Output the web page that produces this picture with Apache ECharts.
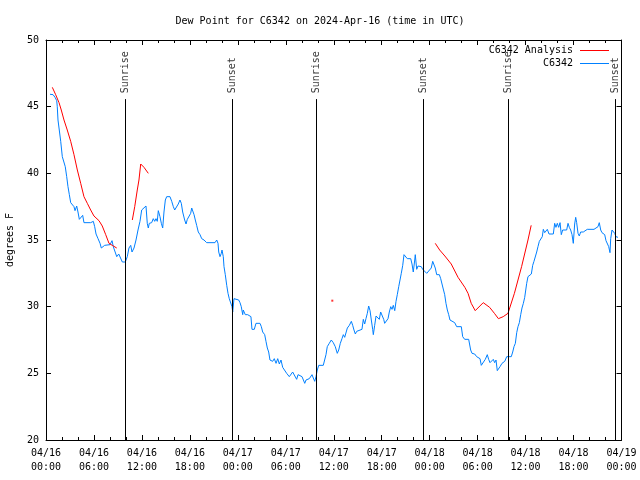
<!DOCTYPE html>
<html>
<head>
<meta charset="utf-8">
<script src="https://cdn.jsdelivr.net/npm/echarts@6/dist/echarts.min.js"></script>
<style>html,body{margin:0;padding:0;background:#fff}#c{width:640px;height:480px}</style>
</head>
<body>
<div id="c"></div>
<script>
// hours since 04/16 00:00 UTC
const tickLabels = ['04/16\n00:00','04/16\n06:00','04/16\n12:00','04/16\n18:00','04/17\n00:00','04/17\n06:00','04/17\n12:00','04/17\n18:00','04/18\n00:00','04/18\n06:00','04/18\n12:00','04/18\n18:00','04/19\n00:00'];
const sunHours = [9.92, 23.31, 33.82, 47.20, 57.84, 71.23];
const sunNames = ['Sunrise','Sunset','Sunrise','Sunset','Sunrise','Sunset'];

const analysisHours = [0.79,1.21,1.63,1.91,2.25,2.66,3.09,3.50,3.92,4.34,4.75,5.17,5.59,6.00,6.63,7.04,7.47,7.88,8.29,8.85,
  9.8,
  10.80,11.10,11.42,11.63,11.85,12.26,12.80,
  20.0,
  35.82,
  40.0,
  48.70,49.25,49.90,50.70,51.55,52.40,52.80,53.20,53.70,54.70,55.50,56.10,56.60,57.20,57.80,58.60,59.50,60.30,60.70];
const analysisValues = [46.45,45.9,45.3,44.75,44.0,43.25,42.4,41.4,40.25,39.25,38.25,37.75,37.25,36.8,36.45,36.05,35.4,34.75,34.6,34.4,
  null,
  36.5,37.5,38.75,39.5,40.7,40.45,40.0,
  null,
  30.45,
  null,
  34.75,34.25,33.8,33.2,32.2,31.45,31.0,30.25,29.7,30.3,29.95,29.5,29.1,29.25,29.5,31.0,33.0,35.0,36.1];

const obsHours = [0.50,0.88,1.13,1.34,1.41,1.50,1.66,1.84,2.04,2.25,2.41,2.59,2.75,2.92,3.09,3.34,3.50,3.63,3.84,4.00,
4.17,4.42,4.59,4.75,5.59,5.92,6.09,6.26,6.51,6.76,6.92,7.09,7.34,7.59,8.01,8.26,8.42,8.59,8.85,9.10,
9.35,9.55,9.92,10.17,10.38,10.60,10.76,11.01,11.26,11.51,11.76,11.97,12.17,12.51,12.60,12.67,12.80,12.92,13.22,13.42,
13.60,13.76,13.92,14.05,14.26,14.43,14.60,14.76,14.93,15.10,15.51,15.73,15.93,16.10,16.35,16.55,16.76,16.93,17.10,17.35,
17.52,17.68,17.93,18.10,18.23,18.35,18.52,18.68,18.85,19.05,19.27,19.48,19.77,20.10,21.14,21.36,21.52,21.61,21.77,21.93,
22.02,22.18,22.27,22.43,22.61,22.77,22.93,23.11,23.27,23.36,23.52,23.77,24.11,24.27,24.43,24.61,24.68,24.93,25.23,25.43,
25.64,25.77,26.06,26.27,26.77,26.94,27.11,27.36,27.52,27.69,27.86,28.02,28.19,28.36,28.56,28.78,28.99,29.19,29.40,29.61,
29.86,30.11,30.44,30.65,30.86,31.11,31.36,31.53,31.78,32.03,32.19,32.37,32.53,32.69,32.94,33.12,33.28,33.44,33.62,33.78,
33.94,34.12,34.69,34.87,35.03,35.19,35.44,35.69,35.94,36.19,36.44,36.62,36.82,37.03,37.20,37.37,37.53,37.70,37.95,38.20,
38.37,38.53,38.70,38.87,39.12,39.53,39.70,39.87,40.03,40.20,40.37,40.54,40.70,40.87,40.95,41.12,41.29,41.54,41.70,41.87,
42.12,42.25,42.37,42.54,42.79,42.95,43.13,43.29,43.45,43.63,43.79,43.95,44.13,44.29,44.45,44.63,44.79,44.95,45.20,45.63,
45.79,45.95,46.13,46.20,46.38,46.54,46.70,46.95,47.13,47.38,47.63,47.88,48.20,48.38,48.54,48.70,48.88,49.04,49.21,49.38,
49.54,49.67,49.88,50.04,50.21,50.38,50.54,50.71,51.13,51.38,51.96,52.13,52.38,52.88,53.13,53.30,53.63,53.88,54.13,54.30,
54.46,54.71,54.96,55.21,55.38,55.55,55.80,55.96,56.13,56.30,56.46,56.64,56.80,57.05,57.39,57.64,58.21,58.39,58.55,58.72,
58.89,59.05,59.22,59.39,59.55,59.72,59.89,60.14,60.30,60.47,60.72,60.89,61.05,61.22,61.39,61.55,61.72,61.89,62.09,62.22,
62.39,62.55,62.72,62.93,63.47,63.64,63.80,63.97,64.14,64.31,64.47,64.64,65.14,65.31,65.47,65.64,65.81,65.97,66.14,66.27,
66.39,66.56,66.72,66.89,67.06,67.22,67.47,67.72,68.56,68.81,69.06,69.22,69.40,69.56,69.72,69.90,70.06,70.22,70.40,70.56,
70.65,70.81,70.98,71.15,71.31,71.56];
const obsValues = [45.93,45.9,45.7,45.45,45.0,44.0,43.25,42.4,41.25,41.2,40.5,39.75,39.0,38.4,37.8,37.7,37.5,37.2,37.55,37.1,
36.55,36.55,36.85,36.3,36.3,36.4,36.0,35.45,35.1,34.75,34.4,34.25,34.6,34.65,34.65,34.95,34.5,34.5,33.75,33.95,
33.95,33.35,33.35,33.75,34.4,34.6,34.1,34.4,35.0,35.75,36.4,37.25,37.4,37.55,37.5,36.25,35.9,36.25,36.3,36.6,
36.4,36.6,36.4,37.2,36.75,36.25,35.9,37.1,38.0,38.25,38.25,37.9,37.5,37.25,37.25,37.7,38.0,37.75,37.1,36.5,
36.2,36.55,36.6,37.0,37.4,37.3,36.9,36.5,36.1,35.6,35.4,35.1,35.0,34.8,34.8,35.0,34.75,34.1,33.75,34.0,
34.25,33.75,33.0,32.4,31.6,31.0,30.6,30.6,30.0,29.6,30.6,30.55,30.5,30.3,30.0,29.4,29.75,29.4,29.4,29.25,
29.25,28.3,28.3,28.75,28.75,28.5,28.1,27.9,27.4,26.9,26.6,26.0,26.1,25.9,26.1,25.75,26.1,25.7,26.0,25.45,
25.3,25.0,24.75,24.8,25.1,25.1,24.55,24.9,24.9,24.75,24.65,24.25,24.5,24.6,24.6,24.75,24.9,24.65,24.4,24.75,
25.25,25.6,25.6,25.75,26.4,27.0,27.25,27.5,27.3,27.0,26.5,26.75,27.25,27.6,27.9,27.7,27.8,28.4,28.6,28.9,
28.6,28.25,27.95,28.15,28.3,28.3,29.05,28.7,29.1,29.5,30.05,29.7,29.0,28.3,27.9,28.6,29.3,29.3,29.05,29.6,
29.45,29.05,28.75,28.85,29.1,29.6,30.0,29.8,30.1,29.7,30.4,30.9,31.5,32.0,32.5,33.1,33.9,34.0,33.6,33.6,
33.2,32.6,33.5,33.9,32.8,33.05,32.9,33.0,32.8,32.75,32.5,32.6,32.9,33.4,33.4,32.9,32.4,32.25,32.4,32.1,
32.1,31.4,30.9,30.25,29.75,29.4,29.0,28.9,28.8,28.5,28.5,27.75,27.55,27.55,26.75,26.5,26.45,26.25,26.35,26.1,
25.6,25.6,26.05,26.4,26.05,25.8,25.8,26.05,25.8,26.0,25.2,25.3,25.5,25.75,25.9,26.25,26.25,26.6,27.0,27.25,
28.05,28.5,28.8,29.4,29.9,30.25,30.7,31.75,32.25,32.4,32.45,33.1,33.4,33.45,34.1,34.5,34.9,34.95,35.25,35.8,
35.55,35.45,35.8,35.45,35.45,36.25,35.95,36.25,35.95,36.3,35.4,35.75,35.75,36.25,35.95,35.75,35.4,34.75,36.2,36.7,
36.3,35.5,35.3,35.6,35.45,35.6,35.7,35.8,35.8,35.85,36.0,36.3,35.75,35.55,35.7,35.4,34.95,34.9,34.5,34.05,
35.1,35.75,35.9,35.5,35.25,35.2];

const FONT = 'DejaVu Sans Mono';
const RED = '#ff0000';
const BLUE = '#0080ff';

const analysisData = analysisHours.map((h, i) => [h, analysisValues[i] == null ? '-' : analysisValues[i]]);
const isolated = [];
analysisValues.forEach((v, i) => {
  if (v != null && analysisValues[i - 1] == null && analysisValues[i + 1] == null) isolated.push([analysisHours[i], v]);
});
const obsData = obsHours.map((h, i) => [h, obsValues[i]]);
const sunLabelData = sunHours.map((h, i) => ({ name: sunNames[i], value: [h, 46.0] }));
const sunLines = sunHours.map(h => [{ coord: [h, 20] }, { coord: [h, 45.57] }]);

const chart = echarts.init(document.getElementById('c'), null, { renderer: 'canvas' });

const xCommon = {
  type: 'value', min: 0, max: 72, interval: 6,
  axisLine: { show: true, onZero: false, lineStyle: { color: '#000', width: 1 } },
  axisTick: { show: true, inside: true, length: 5, lineStyle: { color: '#000' } },
  minorTick: { show: true, splitNumber: 3, length: 3, lineStyle: { color: '#000' } },
  splitLine: { show: false }, minorSplitLine: { show: false }
};
const yCommon = {
  type: 'value', min: 20, max: 50, interval: 5,
  axisLine: { show: true, onZero: false, lineStyle: { color: '#000', width: 1 } },
  axisTick: { show: true, inside: true, length: 5, lineStyle: { color: '#000' } },
  splitLine: { show: false }
};

chart.setOption({
  animation: false,
  backgroundColor: '#fff',
  textStyle: { fontFamily: FONT },
  title: {
    text: 'Dew Point for C6342 on 2024-Apr-16 (time in UTC)',
    left: 'center', top: 11,
    textStyle: { fontFamily: FONT, fontSize: 10, fontWeight: 'normal', color: '#000' }
  },
  legend: {
    data: ['C6342 Analysis', 'C6342'],
    orient: 'vertical', right: 26, top: 39, align: 'right',
    itemWidth: 29, itemHeight: 1, itemGap: 0,
    icon: 'rect',
    textStyle: { fontFamily: FONT, fontSize: 10, color: '#000', lineHeight: 13, padding: [0, 2, 0, 0] }
  },
  grid: { left: 46, right: 18.5, top: 40, bottom: 40, containLabel: false, outerBoundsMode: 'none' },
  xAxis: [
    Object.assign({}, xCommon, {
      position: 'bottom',
      axisLabel: {
        show: true, margin: 6, color: '#000', fontFamily: FONT, fontSize: 10, lineHeight: 14,
        formatter: v => tickLabels[Math.round(v / 6)]
      }
    }),
    Object.assign({}, xCommon, { position: 'top', axisLabel: { show: false } })
  ],
  yAxis: [
    Object.assign({}, yCommon, {
      position: 'left',
      name: 'degrees F', nameLocation: 'middle', nameGap: 31, nameRotate: 90,
      nameTextStyle: { fontFamily: FONT, fontSize: 10, color: '#000' },
      axisLabel: { show: true, margin: 7, color: '#000', fontFamily: FONT, fontSize: 10 }
    }),
    Object.assign({}, yCommon, { position: 'right', axisLabel: { show: false } })
  ],
  series: [
    {
      name: 'sun', type: 'scatter', symbolSize: 0, silent: true,
      data: sunLabelData,
      label: {
        show: true, position: 'inside', rotate: 90, align: 'left', verticalAlign: 'middle',
        formatter: p => p.name, color: '#000', fontFamily: FONT, fontSize: 10
      },
      markLine: {
        silent: true, symbol: ['none', 'none'], label: { show: false },
        lineStyle: { color: '#000', width: 1, type: 'solid' },
        data: sunLines
      }
    },
    {
      name: 'C6342 Analysis', type: 'line', data: analysisData, connectNulls: false,
      symbol: 'none', lineStyle: { color: RED, width: 1 }, itemStyle: { color: RED }, z: 3
    },
    {
      name: 'C6342 Analysis', type: 'scatter', data: isolated, symbol: 'rect', symbolSize: 2,
      itemStyle: { color: RED }, z: 3
    },
    {
      name: 'C6342', type: 'line', data: obsData,
      symbol: 'none', lineStyle: { color: BLUE, width: 1 }, itemStyle: { color: BLUE }, z: 2
    }
  ]
});
</script>
</body>
</html>
